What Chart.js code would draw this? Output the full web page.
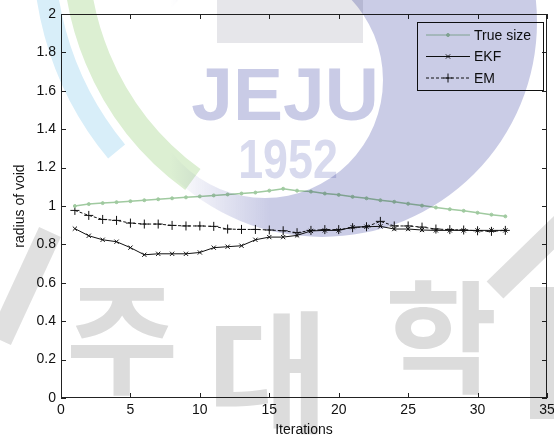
<!DOCTYPE html>
<html>
<head>
<meta charset="utf-8">
<script src="https://cdn.jsdelivr.net/npm/chart.js@4/dist/chart.umd.min.js"></script>
<style>
    html, body { margin: 0; padding: 0; background: #fff; }
    #wrap { width: 554px; height: 439px; }
</style>
</head>
<body>
<div id="wrap"><canvas id="chart" width="554" height="439"></canvas></div>
<script>
const iterations = [1, 2, 3, 4, 5, 6, 7, 8, 9, 10, 11, 12, 13, 14, 15, 16,
    17, 18, 19, 20, 21, 22, 23, 24, 25, 26, 27, 28, 29, 30, 31, 32];
const trueSize = [1.00, 1.01, 1.015, 1.02, 1.025, 1.03, 1.035, 1.04, 1.045, 1.05, 1.055, 1.06, 1.065, 1.07, 1.08, 1.09,
    1.08, 1.075, 1.065, 1.058, 1.048, 1.04, 1.03, 1.022, 1.012, 1.002, 0.992, 0.983, 0.975, 0.965, 0.955, 0.946];
const ekf = [0.882, 0.845, 0.824, 0.814, 0.783, 0.746, 0.751, 0.751, 0.751, 0.758, 0.783, 0.788, 0.793, 0.824, 0.838, 0.838,
    0.847, 0.870, 0.873, 0.873, 0.890, 0.892, 0.894, 0.880, 0.880, 0.875, 0.873, 0.873, 0.873, 0.873, 0.873, 0.873];
const em = [0.977, 0.951, 0.930, 0.925, 0.911, 0.906, 0.906, 0.899, 0.896, 0.896, 0.894, 0.880, 0.878, 0.878, 0.875, 0.871,
    0.861, 0.873, 0.877, 0.877, 0.887, 0.892, 0.920, 0.896, 0.896, 0.890, 0.880, 0.877, 0.875, 0.871, 0.868, 0.873];
const xTicks = [0, 5, 10, 15, 20, 25, 30, 35];
const yTicks = ['0', '0.2', '0.4', '0.6', '0.8', '1', '1.2', '1.4', '1.6', '1.8', '2'];

const FONT = {family: "'Liberation Sans', Arial, sans-serif", size: 14};
const INK = '#111';

const toPoints = (ys) => iterations.map((x, i) => ({x: x, y: ys[i]}));

// MATLAB style box with inward ticks on all four sides
const axesBox = {
    id: 'axesBox',
    afterDatasetsDraw(chart) {
        const {ctx, chartArea: a, scales: {x, y}} = chart;
        ctx.save();
        ctx.strokeStyle = '#222';
        ctx.lineWidth = 1;
        ctx.strokeRect(a.left + 0.5, a.top + 0.5, a.right - a.left - 1, a.bottom - a.top - 1);
        ctx.beginPath();
        x.ticks.forEach(t => {
            const px = Math.round(x.getPixelForValue(t.value)) + 0.5;
            ctx.moveTo(px, a.bottom); ctx.lineTo(px, a.bottom - 5);
            ctx.moveTo(px, a.top); ctx.lineTo(px, a.top + 5);
        });
        y.ticks.forEach(t => {
            const py = Math.round(y.getPixelForValue(t.value)) + 0.5;
            ctx.moveTo(a.left, py); ctx.lineTo(a.left + 5, py);
            ctx.moveTo(a.right, py); ctx.lineTo(a.right - 5, py);
        });
        ctx.stroke();
        ctx.restore();
    }
};

// legend box in the top right corner, line sample + marker + label
const boxLegend = {
    id: 'boxLegend',
    afterDraw(chart) {
        const {ctx, chartArea: a} = chart;
        const left = a.right - 130, top = a.top + 8, w = 126, h = 68;
        ctx.save();
        ctx.strokeStyle = '#111';
        ctx.lineWidth = 1;
        ctx.strokeRect(left + 0.5, top + 0.5, w, h);
        ctx.font = `${FONT.size}px ${FONT.family}`;
        ctx.textBaseline = 'middle';
        chart.data.datasets.forEach((ds, i) => {
            const cy = top + 13 + i * 21.5;
            ctx.strokeStyle = ds.borderColor;
            ctx.fillStyle = ds.borderColor;
            ctx.lineWidth = 1;
            ctx.setLineDash(ds.borderDash || []);
            ctx.beginPath();
            ctx.moveTo(left + 9, cy);
            ctx.lineTo(left + 53, cy);
            ctx.stroke();
            ctx.setLineDash([]);
            Chart.helpers.drawPoint(ctx, {
                pointStyle: ds.pointStyle, radius: ds.pointRadius, rotation: 0, borderWidth: 1
            }, left + 31, cy);
            ctx.fillStyle = INK;
            ctx.fillText(ds.label, left + 57, cy + 1);
        });
        ctx.restore();
    }
};

// faint scanned watermark of the source document, laid over everything
const watermark = {
    id: 'watermark',
    afterDraw(chart) {
        const ctx = chart.ctx;
        ctx.save();
        ctx.globalCompositeOperation = 'multiply';
        ctx.lineCap = 'butt';

        // blue and green arcs on the left
        ctx.strokeStyle = '#d8eef9';
        ctx.lineWidth = 22;
        ctx.beginPath(); ctx.arc(360, -50, 316, 2.45, 3.3); ctx.stroke();
        ctx.strokeStyle = '#dcefd2';
        ctx.lineWidth = 26;
        ctx.beginPath(); ctx.arc(360, -50, 284, 2.2, 3.3); ctx.stroke();

        // lavender crescent, fading out on the left
        const g = ctx.createLinearGradient(170, 0, 270, 0);
        g.addColorStop(0, 'rgba(202,204,230,0)');
        g.addColorStop(1, 'rgba(202,204,230,1)');
        ctx.fillStyle = g;
        ctx.beginPath();
        ctx.arc(322, 22, 215, 0, Math.PI * 2);
        ctx.moveTo(383, 80);
        ctx.arc(265, 80, 118, 0, Math.PI * 2);
        ctx.fill('evenodd');

        // grey block above the lettering
        ctx.fillStyle = '#e6e6ea';
        ctx.fillRect(217, 0, 146, 43);

        ctx.textAlign = 'center';
        ctx.textBaseline = 'alphabetic';
        ctx.fillStyle = '#c9cbe6';
        ctx.font = "bold 75px 'Liberation Sans', sans-serif";
        ctx.fillText('JEJU', 285, 120);
        ctx.fillStyle = '#d8daee';
        ctx.font = "bold 56px 'Liberation Sans', sans-serif";
        ctx.save();
        ctx.translate(288, 178);
        ctx.scale(0.8, 1);
        ctx.fillText('1952', 0, 0);
        ctx.restore();

        // grey lettering and strokes at the bottom
        ctx.strokeStyle = '#e0e0e0';
        ctx.lineWidth = 24;
        ctx.beginPath(); ctx.moveTo(565, 222); ctx.lineTo(495, 290); ctx.stroke();
        ctx.beginPath(); ctx.moveTo(50, 232); ctx.lineTo(0, 340); ctx.stroke();
        ctx.fillStyle = '#dcdcdc';
        ctx.textBaseline = 'middle';
        ctx.font = "bold 122px 'Noto Sans CJK KR', sans-serif";
        ctx.fillText('주', 122, 338);
        ctx.fillText('학', 441, 337);
        ctx.font = "bold 132px 'Noto Sans CJK KR', sans-serif";
        ctx.fillText('대', 268, 372);
        ctx.fillRect(530, 287, 24, 132);
        ctx.restore();
    }
};

const ctx = document.getElementById('chart');

new Chart(ctx, {
    type: 'line',
    data: {
        datasets: [{
            label: 'True size',
            data: toPoints(trueSize),
            borderColor: '#a0caa0',
            backgroundColor: '#a0caa0',
            borderWidth: 1.5,
            pointStyle: 'circle',
            pointRadius: 1.5,
            pointBorderWidth: 1
        }, {
            label: 'EKF',
            data: toPoints(ekf),
            borderColor: '#111',
            backgroundColor: '#111',
            borderWidth: 1,
            pointStyle: 'crossRot',
            pointRadius: 3,
            pointBorderWidth: 1
        }, {
            label: 'EM',
            data: toPoints(em),
            borderColor: '#111',
            backgroundColor: '#111',
            borderWidth: 1,
            borderDash: [3, 2],
            pointStyle: 'cross',
            pointRadius: 4.5,
            pointBorderWidth: 1
        }]
    },
    options: {
        responsive: false,
        devicePixelRatio: 1,
        animation: false,
        layout: {padding: {left: 0, top: 14, right: 7, bottom: 0}},
        elements: {line: {tension: 0, fill: false}},
        plugins: {
            legend: {display: false},
            tooltip: {enabled: false}
        },
        scales: {
            x: {
                type: 'linear',
                min: 0,
                max: 35,
                afterBuildTicks: (s) => { s.ticks = xTicks.map(v => ({value: v})); },
                afterFit: (s) => { s.height = 41; s.paddingLeft = 0; s.paddingRight = 0; },
                ticks: {color: INK, font: FONT, padding: 4, maxRotation: 0, autoSkip: false},
                grid: {display: false, drawTicks: false},
                border: {display: false},
                title: {display: true, text: 'Iterations', color: INK, font: FONT, padding: {top: 0, bottom: 0}}
            },
            y: {
                type: 'linear',
                min: 0,
                max: 2,
                afterBuildTicks: (s) => { s.ticks = yTicks.map(v => ({value: parseFloat(v)})); },
                afterFit: (s) => { s.width = 61; },
                ticks: {
                    color: INK, font: FONT, padding: 5, autoSkip: false,
                    callback: (value, index) => yTicks[index]
                },
                grid: {display: false, drawTicks: false},
                border: {display: false},
                title: {display: true, text: 'radius of void', color: INK, font: FONT, padding: {top: 12, bottom: 0}}
            }
        }
    },
    plugins: [axesBox, boxLegend, watermark]
});
</script>
</body>
</html>
